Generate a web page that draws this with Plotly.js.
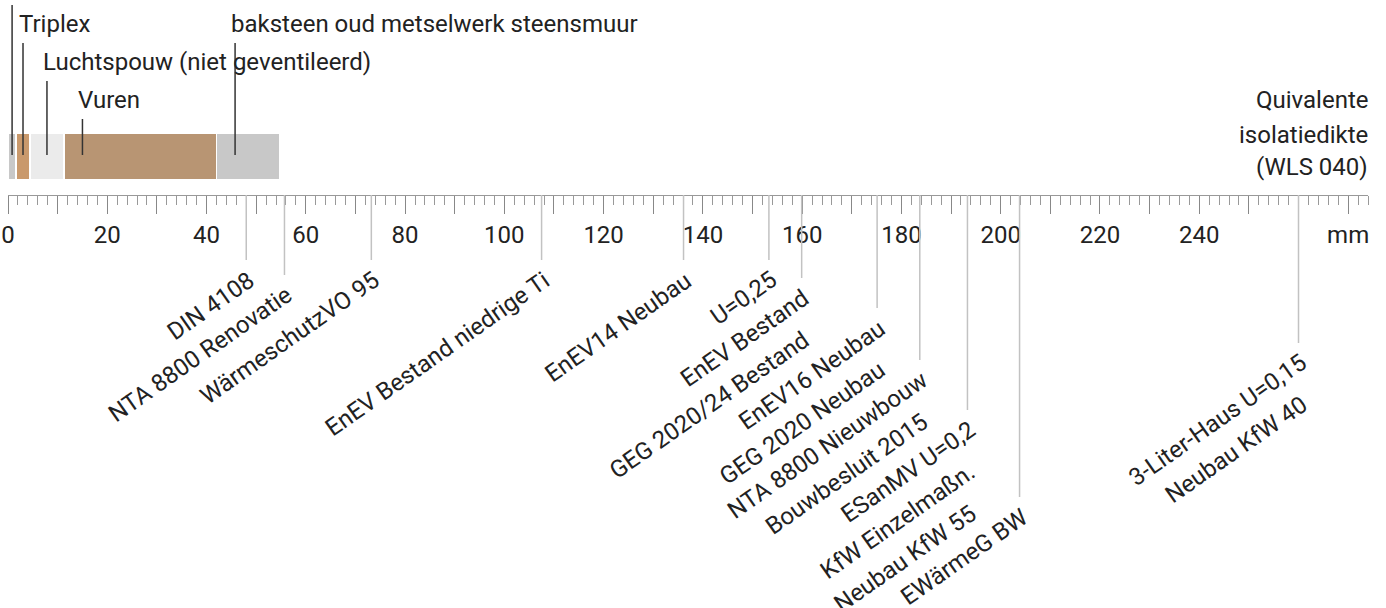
<!DOCTYPE html>
<html><head><meta charset="utf-8">
<script src="https://cdn.plot.ly/plotly-3.0.1.min.js"></script>
<style>html,body{margin:0;padding:0;background:#fff}#chart{width:1386px;height:608px}</style>
</head><body><div id="chart"></div>
<script>
// ---- data ----
// wall layers, equivalent insulation thickness (mm)
const layerNames = ['', 'Triplex', 'Luchtspouw (niet geventileerd)', 'Vuren', 'baksteen oud metselwerk steensmuur'];
const layerThickness = [1.65, 2.75, 6.9, 30.75, 12.6];
const layerColors = ['#c8c8c8', '#c9996c', '#ebebeb', '#b89573', '#c8c8c8'];

// reference standards: equivalent insulation thickness (mm) and labels
const standardValues = [48.0, 55.7, 73.2, 107.5, 136.1, 153.3, 159.9, 175.1, 183.7, 193.3, 203.8, 260.0];
const standardLabels = [
  ['DIN 4108'],
  ['NTA 8800 Renovatie'],
  ['WärmeschutzVO 95'],
  ['EnEV Bestand niedrige Ti'],
  ['EnEV14 Neubau'],
  ['U=0,25'],
  ['EnEV Bestand', 'GEG 2020/24 Bestand'],
  ['EnEV16 Neubau', 'GEG 2020 Neubau'],
  ['NTA 8800 Nieuwbouw', 'Bouwbesluit 2015'],
  ['ESanMV U=0,2', 'KfW Einzelmaßn.', 'Neubau KfW 55'],
  ['EWärmeG BW'],
  ['3-Liter-Haus U=0,15', 'Neubau KfW 40']
];

const tickValues = [0,10,20,30,40,50,60,70,80,90,100,110,120,130,140,150,160,170,180,190,200,210,220,230,240,250,260,270];
const tickLabels = ['0','','20','','40','','60','','80','','100','','120','','140','','160','','180','','200','','220','','240','','','mm'];
const axisTitleLines = ['Quivalente', 'isolatiedikte', '(WLS 040)'];

// ---- layout helpers (pixel geometry, y axis is in pixels) ----
const W = 1386, H = 608;
const AXIS_Y = 195;
const BAR_Y = 156.5, BAR_H = 46.5;
const labelRow = [-1, 0, 1, 2, 0];
const lineEnd = [260, 275, 260, 260, 260, 260, 278, 308, 360, 410, 497, 343];
const FONT = {family: 'Roboto, "Noto Sans", sans-serif', size: 24, color: '#222'};

const traces = layerThickness.map((t, i) => ({
  type: 'bar', orientation: 'h', x: [t], y: [BAR_Y], width: [BAR_H],
  marker: {color: layerColors[i], line: {color: '#ffffff', width: 1.5}},
  hoverinfo: 'skip', showlegend: false, name: layerNames[i]
}));

const shapes = [];
const annotations = [];

// leader lines + labels of the layers
let left = 0;
layerThickness.forEach((t, i) => {
  const lx = left + Math.min(t / 2, 3.7);
  const top = 43 + 38 * labelRow[i];
  shapes.push({type: 'line', xref: 'x', yref: 'y', x0: lx, x1: lx, y0: top, y1: 155,
    line: {color: '#333', width: 1.5}});
  if (layerNames[i]) {
    annotations.push({x: lx, xref: 'x', y: top - 19, yref: 'y', text: layerNames[i],
      xanchor: 'left', yanchor: 'middle', xshift: -6, showarrow: false, font: FONT});
  }
  left += t;
});

// standards
standardValues.forEach((v, i) => {
  shapes.push({type: 'line', xref: 'x', yref: 'y', x0: v, x1: v, y0: AXIS_Y, y1: lineEnd[i],
    line: {color: '#c2c2c2', width: 1.5}});
  standardLabels[i].forEach((txt, k) => {
    annotations.push({x: v, xref: 'x', y: lineEnd[i] + 42 * k + 3, yref: 'y', text: txt,
      textangle: -35, xanchor: 'right', yanchor: 'top', xshift: 16, showarrow: false, font: FONT});
  });
});

// axis title at the right
const titleBaselines = [108, 143, 175];
axisTitleLines.forEach((txt, k) => {
  annotations.push({x: 1, xref: 'paper', y: titleBaselines[k] - 8.3, yref: 'y', text: txt,
    xanchor: 'right', yanchor: 'middle', xshift: 2, showarrow: false, font: FONT});
});

const layout = {
  width: W, height: H,
  margin: {l: 8, r: 18, t: 0, b: 0, pad: 0},
  paper_bgcolor: '#fff', plot_bgcolor: '#fff',
  barmode: 'stack', bargap: 0,
  showlegend: false,
  font: FONT,
  xaxis: {
    range: [0, 274], anchor: 'free', position: 1 - AXIS_Y / H, side: 'bottom',
    showgrid: false, zeroline: false, showline: true, linecolor: '#999', linewidth: 1,
    tickmode: 'array', tickvals: tickValues, ticktext: tickLabels,
    ticks: 'outside', ticklen: 18, tickwidth: 1, tickcolor: '#888',
    tickfont: FONT,
    minor: {tickmode: 'linear', tick0: 0, dtick: 2, ticks: 'outside', ticklen: 9, tickwidth: 1, tickcolor: '#999', showgrid: false},
    fixedrange: true
  },
  yaxis: {range: [H, 0], visible: false, fixedrange: true},
  shapes: shapes,
  annotations: annotations
};

Plotly.newPlot('chart', traces, layout, {displayModeBar: false, staticPlot: true});
</script>
</body></html>
